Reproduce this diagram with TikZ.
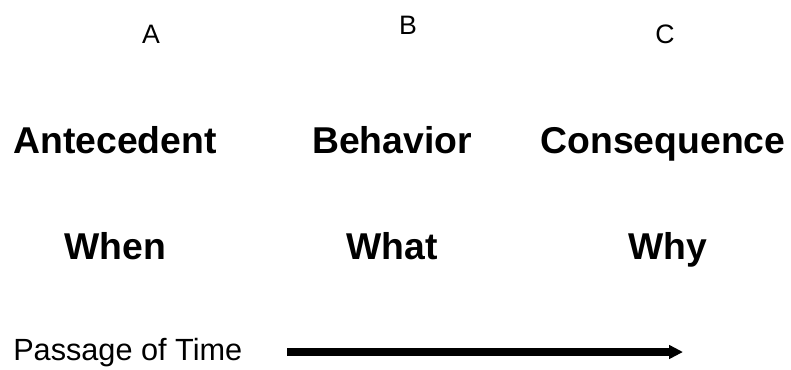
\documentclass[tikz,border=0pt]{standalone}
\usepackage{fontspec}
\setmainfont{Liberation Sans}
\usetikzlibrary{arrows.meta}
\tikzset{
  letter/.style={anchor=base, inner sep=0pt, font=\fontsize{20}{20}\selectfont},
  term/.style={anchor=base, inner sep=0pt, font=\fontsize{28}{28}\selectfont\bfseries},
  plain/.style={anchor=base west, inner sep=0pt, font=\fontsize{23}{23}\selectfont},
  timearrow/.style={line width=6pt, -{Triangle[length=10.5pt, width=10pt]}}
}
\begin{document}
\begin{tikzpicture}[x=0.75pt, y=-0.75pt]
\useasboundingbox (0,0) rectangle (791,369);
\node[letter] (a) at (151,43) {A};
\node[letter] (b) at (408,34) {B};
\node[letter] (c) at (665,43) {C};
\node[term] (ant) at (115,153) {Antecedent};
\node[term] (beh) at (392,153) {Behavior};
\node[term] (con) at (663,153) {Consequence};
\node[term] (when) at (115,259) {When};
\node[term] (what) at (392,259) {What};
\node[term] (why) at (668,259) {Why};
\node[plain] (pass) at (13,360) {Passage of Time};
\coordinate (s) at (287,352);
\coordinate (e) at (683,352);
\draw[timearrow] (s) -- (e);
\end{tikzpicture}
\end{document}
